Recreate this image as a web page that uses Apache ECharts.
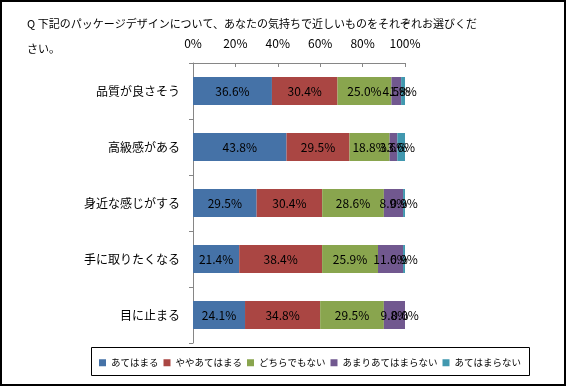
<!DOCTYPE html>
<html>
<head>
<meta charset="utf-8">
<script src="https://cdn.jsdelivr.net/npm/echarts@6/dist/echarts.min.js"></script>
<style>html,body{margin:0;padding:0;background:#fff;}#c{width:566px;height:386px;}</style>
</head>
<body>
<div id="c"></div>
<script>
var categories = ['品質が良さそう', '高級感がある', '身近な感じがする', '手に取りたくなる', '目に止まる'];
var seriesNames = ['あてはまる', 'ややあてはまる', 'どちらでもない', 'あまりあてはまらない', 'あてはまらない'];
var s1 = [36.6, 43.8, 29.5, 21.4, 24.1];
var s2 = [30.4, 29.5, 30.4, 38.4, 34.8];
var s3 = [25.0, 18.8, 28.6, 25.9, 29.5];
var s4 = [4.5, 3.6, 8.9, 11.6, 9.8];
var s5 = [1.8, 3.6, 0.9, 0.9, 0.0];
var tickLabels = ['0%', '20%', '40%', '60%', '80%', '100%'];
var titleText = 'Q 下記のパッケージデザインについて、あなたの気持ちで近しいものをそれぞれお選びくだ\nさい。';
var colors = ['#4572A7', '#AA4643', '#89A54E', '#71588F', '#4198AF'];

var raw = [s1, s2, s3, s4, s5];
var totals = categories.map(function (c, i) {
  return raw.reduce(function (a, s) { return a + s[i]; }, 0);
});
var FONT = '"Noto Sans CJK JP", "Noto Sans", sans-serif';

var series = raw.map(function (vals, k) {
  return {
    name: seriesNames[k],
    type: 'bar',
    stack: 'total',
    barWidth: 28,
    itemStyle: { color: colors[k] },
    label: {
      show: true,
      position: 'inside',
      color: '#000',
      fontSize: 12,
      fontFamily: FONT,
      formatter: function (p) { return raw[k][p.dataIndex].toFixed(1) + '%'; }
    },
    data: vals.map(function (v, i) { return v / totals[i] * 100; })
  };
});

var chart = echarts.init(document.getElementById('c'));
chart.setOption({
  animation: false,
  backgroundColor: '#fff',
  title: {
    text: titleText,
    left: 22,
    top: 6,
    textStyle: { fontSize: 11, fontWeight: 'normal', color: '#000', fontFamily: FONT, lineHeight: 25 }
  },
  grid: { left: 193, top: 63, width: 212, height: 280, containLabel: false },
  xAxis: {
    type: 'value',
    position: 'top',
    min: 0, max: 100, interval: 20,
    axisLine: { show: true, lineStyle: { color: '#868686' } },
    axisTick: { show: true, inside: true, length: 4, lineStyle: { color: '#868686' } },
    splitLine: { show: false },
    axisLabel: {
      color: '#000', fontSize: 12, fontFamily: FONT, margin: 14,
      formatter: function (v) { return tickLabels[Math.round(v / 20)]; }
    }
  },
  yAxis: {
    type: 'category',
    inverse: true,
    data: categories,
    axisLine: { show: true, lineStyle: { color: '#868686' } },
    axisTick: { show: true, length: 4, lineStyle: { color: '#868686' } },
    axisLabel: { color: '#000', fontSize: 12, fontFamily: FONT, margin: 13 }
  },
  legend: {
    data: seriesNames,
    left: 94,
    top: 353,
    itemWidth: 7,
    itemHeight: 7,
    itemGap: 5,
    icon: 'rect',
    textStyle: { fontSize: 9.5, color: '#000', fontFamily: FONT }
  },
  graphic: [
    { type: 'rect', shape: { x: 1, y: 1, width: 564, height: 384 }, style: { fill: 'none', stroke: '#000', lineWidth: 2 }, silent: true },
    { type: 'rect', shape: { x: 91.5, y: 347.5, width: 438, height: 28 }, style: { fill: 'none', stroke: '#000', lineWidth: 1 }, silent: true }
  ],
  series: series
});
</script>
</body>
</html>
